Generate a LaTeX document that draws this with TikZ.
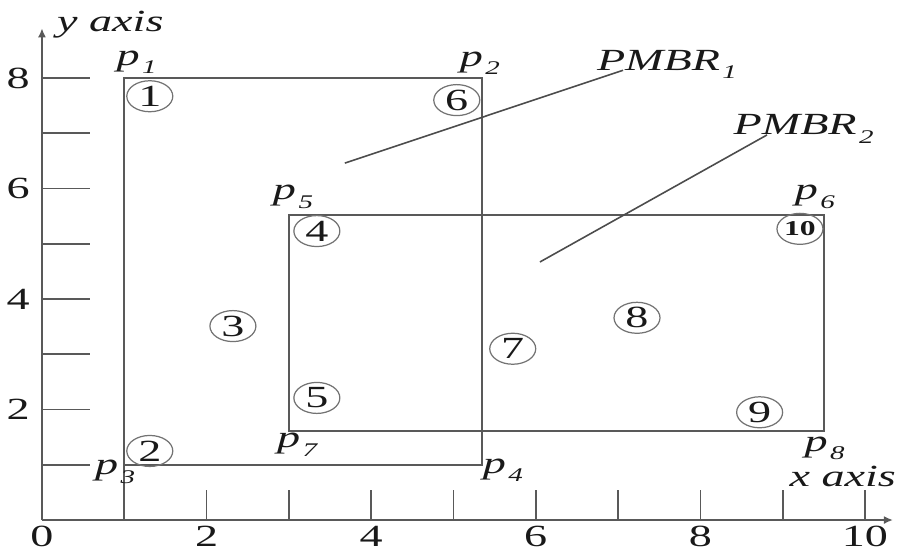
\documentclass[tikz,border=0pt]{standalone}
\usepackage{fontspec}
\setmainfont{Liberation Serif}[FakeStretch=1.5]
\usetikzlibrary{arrows.meta,shapes.geometric,calc}
\tikzset{
  axisline/.style={-{Latex[length=1.8mm,width=1.6mm]}, line width=1pt, draw=black!65},
  tickline/.style={line width=1pt, draw=black!65},
  mbrbox/.style={line width=1pt, draw=black!65},
  leader/.style={line width=0.9pt, draw=black!70},
  objnode/.style={ellipse, draw=black!55, line width=0.7pt, minimum width=0.92cm, minimum height=0.62cm, inner sep=0pt},
  ticklabel/.style={inner sep=0pt},
  cornerlabel/.style={inner sep=0pt}
}
\newcommand{\sublab}[2]{\textit{#1\kern0.08em\raisebox{-0.6ex}{\fontsize{11}{12}\selectfont #2}}}

\begin{document}
\begin{tikzpicture}[x=1.646cm, y=1.105cm, every node/.style={font=\fontsize{17.5}{21}\selectfont, text=black!90}]
  \useasboundingbox (-0.51,-0.489) rectangle (10.389,9.412);
  % axes and ticks
  \coordinate (o) at (0,0);
  \coordinate (xend) at (10.34,0);
  \coordinate (yend) at (0,8.9);
  \draw[axisline] (o) -- (xend);
  \draw[axisline] (o) -- (yend);
  \foreach \k in {1,...,8}
    \draw[tickline] (0,\k) -- (0.58,\k);
  \foreach \k in {2,...,10}
    \draw[tickline] (\k,0) -- (\k,0.54);
  \foreach \k in {0,2,...,10}
    \node[ticklabel] (xl\k) at (\k,-0.29) {\k};
  \foreach \k in {2,4,...,8}
    \node[ticklabel] (yl\k) at (-0.29,\k) {\k};
  \node[cornerlabel] (xlab) at (9.73,0.79) {\textit{x axis}};
  \node[cornerlabel] (ylab) at (0.83,8.96) {\textit{y axis}};

  % the two MBRs
  \coordinate (p1) at (1,8);
  \coordinate (p2) at (5.35,8);
  \coordinate (p3) at (1,1);
  \coordinate (p4) at (5.35,1);
  \coordinate (p5) at (3,5.52);
  \coordinate (p6) at (9.5,5.52);
  \coordinate (p7) at (3,1.61);
  \coordinate (p8) at (9.5,1.61);
  \draw[tickline] (1,0) -- (p3);
  \draw[mbrbox] (p1) -- (p2) -- (p4) -- (p3) -- cycle;
  \draw[mbrbox] (p5) -- (p6) -- (p8) -- (p7) -- cycle;

  \node[cornerlabel] (lp1) at (1.15,8.29) {\sublab{p}{1}};
  \node[cornerlabel] (lp2) at (5.32,8.27) {\sublab{p}{2}};
  \node[cornerlabel] (lp3) at (0.89,0.87) {\sublab{p}{3}};
  \node[cornerlabel] (lp4) at (5.60,0.90) {\sublab{p}{4}};
  \node[cornerlabel] (lp5) at (3.05,5.85) {\sublab{p}{5}};
  \node[cornerlabel] (lp6) at (9.39,5.85) {\sublab{p}{6}};
  \node[cornerlabel] (lp7) at (3.10,1.36) {\sublab{p}{7}};
  \node[cornerlabel] (lp8) at (9.51,1.30) {\sublab{p}{8}};

  % objects
  \node[objnode] (o1) at (1.31,7.67) {1};
  \node[objnode] (o2) at (1.31,1.25) {2};
  \node[objnode] (o3) at (2.32,3.51) {3};
  \node[objnode] (o4) at (3.34,5.23) {4};
  \node[objnode] (o5) at (3.34,2.21) {5};
  \node[objnode] (o6) at (5.04,7.60) {6};
  \node[objnode] (o7) at (5.72,3.10) {7};
  \node[objnode] (o8) at (7.23,3.66) {8};
  \node[objnode] (o9) at (8.72,1.95) {9};
  \node[objnode, font=\fontsize{12}{14}\selectfont\bfseries] (o10) at (9.21,5.27) {10};

  % MBR labels
  \node[anchor=base west, inner sep=0pt] (pm1) at (6.74,8.14) {\sublab{PMBR}{1}};
  \node[anchor=base west, inner sep=0pt] (pm2) at (8.40,6.97) {\sublab{PMBR}{2}};
  \coordinate (m1) at (3.68,6.46);
  \coordinate (m2) at (6.05,4.67);
  \draw[leader] (m1) -- ($(pm1.base west)+(0.32,0)$);
  \draw[leader] (m2) -- ($(pm2.base west)+(0.41,0)$);
\end{tikzpicture}
\end{document}
